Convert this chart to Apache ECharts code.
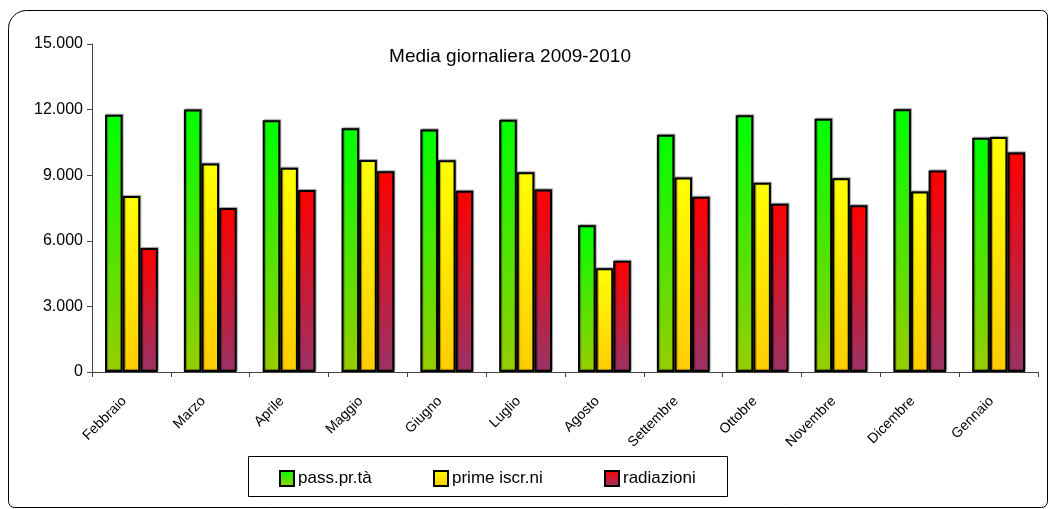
<!DOCTYPE html>
<html>
<head>
<meta charset="utf-8">
<script src="https://cdn.jsdelivr.net/npm/echarts@6/dist/echarts.min.js"></script>
<style>html,body{margin:0;padding:0;background:#fff}#c{width:1049px;height:509px}</style>
</head>
<body>
<div id="c"></div>
<script>
const categories = ['Febbraio','Marzo','Aprile','Maggio','Giugno','Luglio','Agosto','Settembre','Ottobre','Novembre','Dicembre','Gennaio'];
const passPrTa = [11770, 12000, 11510, 11150, 11090, 11540, 6710, 10850, 11740, 11580, 12020, 10710];
const primeIscr = [8050, 9540, 9340, 9690, 9680, 9130, 4740, 8900, 8660, 8860, 8260, 10750];
const radiazioni = [5670, 7500, 8320, 9180, 8290, 8350, 5090, 8010, 7690, 7630, 9210, 10040];
const yTicks = [0, 3000, 6000, 9000, 12000, 15000];
const seriesNames = ['pass.pr.tà', 'prime iscr.ni', 'radiazioni'];

const FONT = '"Liberation Sans Narrow", "Liberation Sans", Arial, sans-serif';
function grad(top, bottom) {
  return new echarts.graphic.LinearGradient(0, 0, 0, 1, [
    {offset: 0, color: top}, {offset: 1, color: bottom}
  ]);
}
const styles = [
  grad('#00ff00', '#99cc00'),
  grad('#ffff00', '#ffcc00'),
  grad('#ff0000', '#993366')
];
const dataSets = [passPrTa, primeIscr, radiazioni];

const chart = echarts.init(document.getElementById('c'), null, {renderer: 'canvas'});

function fmtDot(v) {
  if (v === 0) return '0';
  const s = String(v);
  return s.slice(0, s.length - 3) + '.' + s.slice(s.length - 3);
}

chart.setOption({
  animation: false,
  backgroundColor: '#ffffff',
  title: {
    text: 'Media giornaliera 2009-2010',
    left: 505, top: 42, textAlign: 'center',
    textStyle: {fontFamily: FONT, fontSize: 19, fontWeight: 'normal', color: '#000'}
  },
  graphic: [{
    type: 'rect', silent: true, z: -1,
    shape: {x: 8.5, y: 10.5, width: 1039, height: 497, r: [18, 6, 6, 6]},
    style: {fill: 'none', stroke: '#000', lineWidth: 1}
  }, {
    type: 'rect', silent: true, z: -1,
    shape: {x: 248.5, y: 456.5, width: 479, height: 40},
    style: {fill: '#fff', stroke: '#000', lineWidth: 1}
  }],
  legend: [0, 1, 2].map((i) => ({
    data: [seriesNames[i]],
    left: [279, 433, 604][i], top: 470, padding: 0,
    itemWidth: 14, itemHeight: 15, itemGap: 4,
    icon: 'rect',
    textStyle: {fontFamily: FONT, fontSize: 17, color: '#000', padding: [0, 0, 0, -1]},
    itemStyle: {borderColor: '#000', borderWidth: 2}
  })),
  grid: {left: 92, right: 11, top: 44, bottom: 137, containLabel: false},
  xAxis: {
    type: 'category', data: categories,
    axisLine: {lineStyle: {color: '#444', width: 1}},
    axisTick: {show: true, length: 5, inside: false, alignWithLabel: false, lineStyle: {color: '#444'}},
    axisLabel: {rotate: 45, interval: 0, margin: 20, padding: [0, 10, 0, 0], fontFamily: FONT, fontSize: 14, color: '#000'}
  },
  yAxis: {
    type: 'value', min: 0, max: 15000, interval: 3000,
    splitLine: {show: false},
    axisLine: {show: true, lineStyle: {color: '#444', width: 1}},
    axisTick: {show: true, length: 5, lineStyle: {color: '#444'}},
    axisLabel: {margin: 9, fontFamily: FONT, fontSize: 16, color: '#000', formatter: fmtDot}
  },
  series: [0, 1, 2].map(i => ({
    name: seriesNames[i], type: 'bar',
    data: dataSets[i],
    barGap: '0%', barCategoryGap: '33%',
    itemStyle: {color: styles[i], borderColor: '#000', borderWidth: 2,
      shadowColor: 'rgba(0,0,0,0.35)', shadowOffsetX: 1, shadowOffsetY: -1, shadowBlur: 1}
  }))
});
</script>
</body>
</html>
